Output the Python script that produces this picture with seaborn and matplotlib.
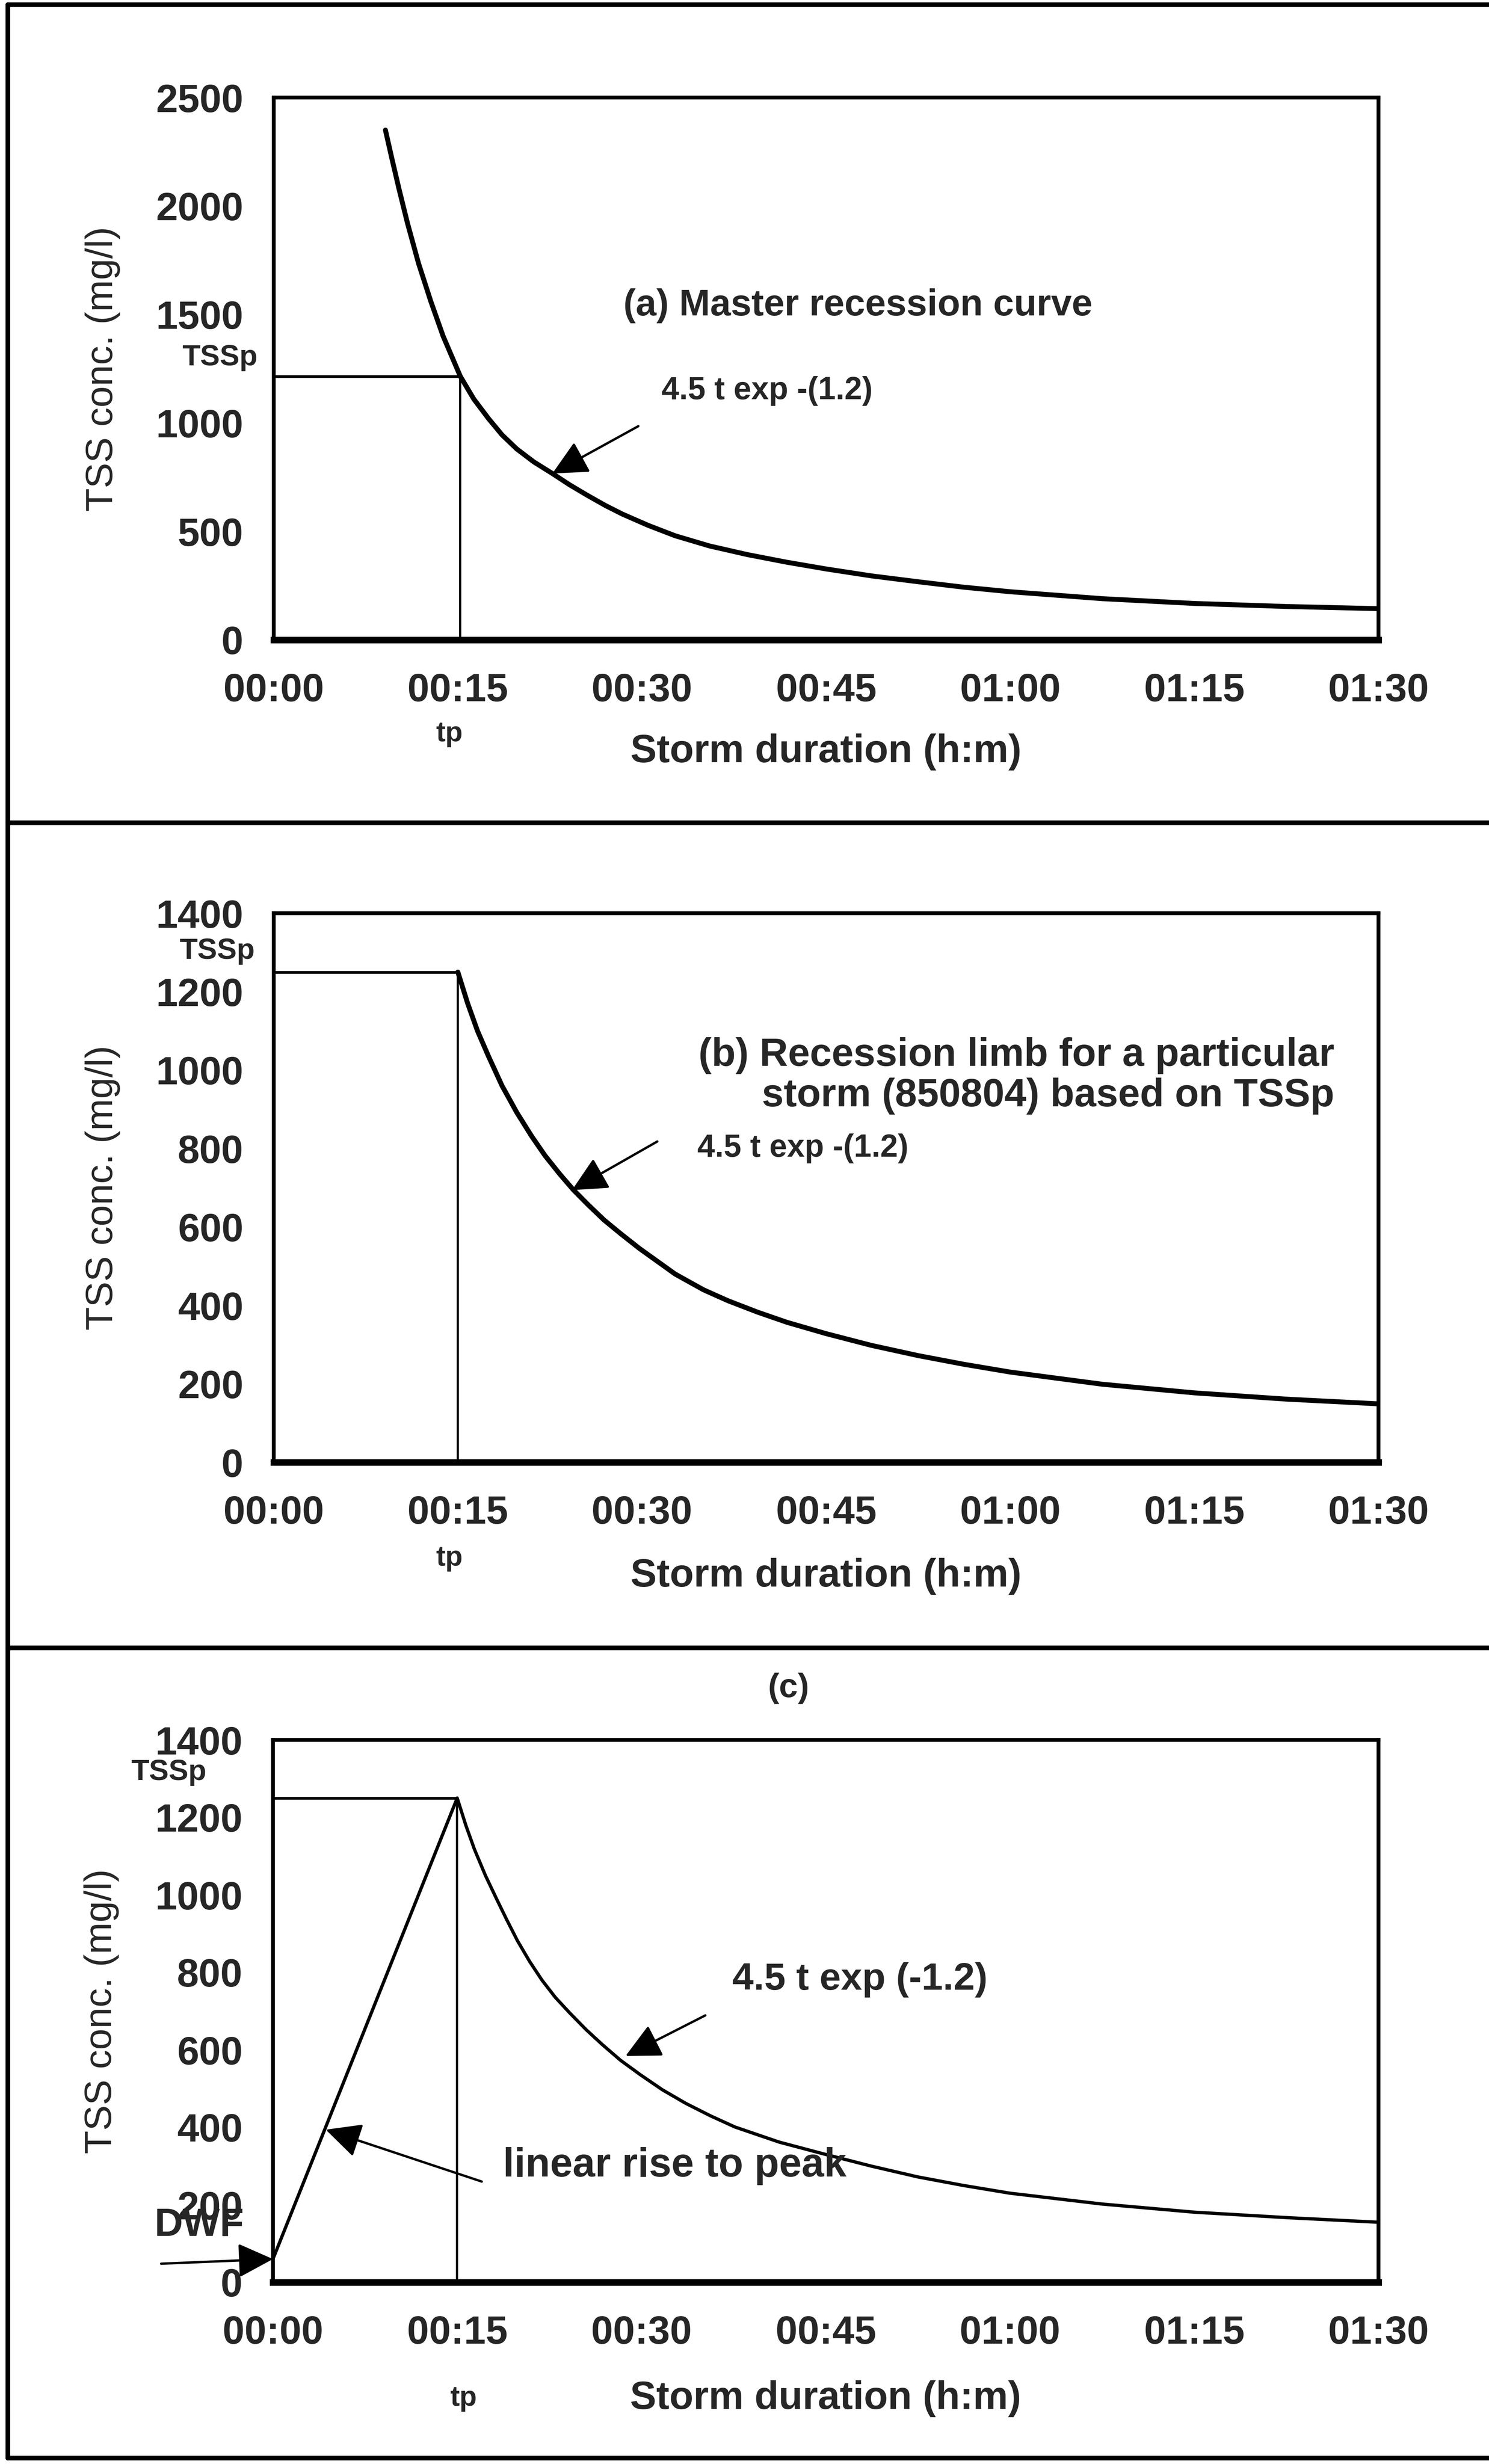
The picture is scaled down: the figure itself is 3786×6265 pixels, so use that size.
import matplotlib
matplotlib.use("Agg")
import matplotlib.pyplot as plt
from matplotlib.lines import Line2D
import seaborn as sns
import pandas as pd

# ---------------- data (time in minutes, TSS in mg/l) ----------------
x_ticks = [0, 15, 30, 45, 60, 75, 90]
x_tick_labels = ["00:00", "00:15", "00:30", "00:45", "01:00", "01:15", "01:30"]

# (a) master recession curve
a_time = [9.1, 9.6, 10.2, 10.9, 11.8, 12.8, 13.8, 15.2, 16.3, 17.5, 18.6, 19.8,
          21.2, 22.7, 24.1, 25.5, 27.0, 28.4, 30.5, 32.7, 35.5, 38.6, 41.8,
          45.0, 48.7, 52.5, 56.2, 60.0, 67.5, 75.0, 82.5, 90.0]
a_tss = [2350, 2225, 2080, 1920, 1735, 1560, 1400, 1215, 1110, 1020, 945, 880,
         820, 767, 715, 668, 620, 580, 528, 480, 433, 393, 358,
         327, 295, 268, 243, 222, 190, 168, 154, 144]
a_tp, a_tssp = 15.2, 1215
a_yticks = [0, 500, 1000, 1500, 2000, 2500]

# (b) recession limb for storm 850804
b_time = [15.0, 15.8, 16.6, 17.5, 18.6, 19.8, 21.0, 22.1, 23.3, 24.4, 25.6,
          26.9, 28.3, 29.8, 32.7, 35.0, 37.0, 39.4, 41.8, 45.0, 48.7, 52.5,
          56.2, 60.0, 67.5, 75.0, 82.5, 90.0]
b_tss = [1250, 1170, 1100, 1035, 960, 892, 832, 782, 735, 695, 657,
         618, 582, 545, 480, 440, 412, 383, 357, 328, 298, 272,
         250, 230, 199, 177, 161, 149]
b_tp, b_tssp = 15.0, 1250
b_yticks = [0, 200, 400, 600, 800, 1000, 1200, 1400]

# (c) linear rise from dry weather flow to peak, then recession
c_time = [0.0, 15.0, 15.7, 16.4, 17.3, 18.2, 19.0, 19.9, 20.9, 21.9, 23.0,
          24.2, 25.5, 26.8, 28.3, 29.9, 31.7, 33.6, 35.6, 37.6, 41.2, 45.0,
          48.7, 52.5, 56.2, 60.0, 67.5, 75.0, 82.5, 90.0]
c_tss = [60, 1250, 1180, 1118, 1050, 990, 938, 882, 828, 780, 735,
         694, 652, 614, 573, 536, 497, 462, 430, 401, 362, 330,
         300, 272, 250, 230, 202, 181, 167, 155]
c_tp, c_tssp, c_dwf = 15.0, 1250, 60
c_yticks = [0, 200, 400, 600, 800, 1000, 1200, 1400]

# ---------------- style ----------------
sns.set_theme(style="white")
plt.rcParams["font.family"] = ["Liberation Sans", "DejaVu Sans"]

W, H = 3787, 6265
fig = plt.figure(figsize=(W / 100, H / 100), dpi=100)
fig.patch.set_facecolor("white")

TICK_FS = 72
BOLD = "bold"


def make_axes(left, top, right, bottom):
    return fig.add_axes([left / W, 1 - bottom / H, (right - left) / W, (bottom - top) / H])


def style_axes(ax, yticks, xlabel_y):
    ax.set_xlim(0, 90)
    ax.set_ylim(0, yticks[-1])
    ax.set_xticks(x_ticks, labels=x_tick_labels, fontweight=BOLD, fontsize=TICK_FS)
    ax.set_yticks(yticks, labels=[str(v) for v in yticks], fontweight=BOLD, fontsize=TICK_FS)
    ax.tick_params(axis="y", direction="inout", length=39, width=3.5, pad=36, color="black")
    ax.tick_params(axis="x", direction="inout", length=34, width=3.5, pad=43, color="black")
    for side in ("left", "top", "right"):
        ax.spines[side].set_linewidth(7)
        ax.spines[side].set_color("black")
    ax.spines["bottom"].set_linewidth(12)
    ax.spines["bottom"].set_color("black")
    ax.set_facecolor("white")
    ax.grid(False)
    ax.set_xlabel("Storm duration (h:m)", fontsize=72, fontweight=BOLD, va="center")
    ax.xaxis.set_label_coords(0.5, xlabel_y)
    ax.set_ylabel("TSS conc. (mg/l)", fontsize=70, fontweight="normal", va="center")
    ax.yaxis.set_label_coords(-0.155, 0.5)


def arrow(ax, head, tail):
    ax.annotate("", xy=head, xytext=tail, annotation_clip=False,
                arrowprops=dict(arrowstyle="-|>,head_length=0.55,head_width=0.27",
                                mutation_scale=100, lw=4.3, color="black",
                                shrinkA=0, shrinkB=0))


def curve(ax, t, tss, lw):
    sns.lineplot(data=pd.DataFrame({"t": t, "tss": tss}), x="t", y="tss",
                 ax=ax, color="black", linewidth=lw, sort=False)
    ax.lines[-1].set_solid_joinstyle("round")


# ---------------- panel (a) ----------------
ax_a = make_axes(696, 248, 3505, 1627)
curve(ax_a, a_time, a_tss, 9)
ax_a.plot([0, a_tp], [a_tssp, a_tssp], color="black", lw=5)
ax_a.plot([a_tp, a_tp], [0, a_tssp], color="black", lw=4)
style_axes(ax_a, a_yticks, -0.2067)
ax_a.text(47.6, 1540, "(a) Master recession curve", fontsize=68, fontweight=BOLD,
          ha="center", va="center")
ax_a.text(40.2, 1147, "4.5 t exp -(1.2)", fontsize=58, fontweight=BOLD,
          ha="center", va="center")
arrow(ax_a, (22.7, 767), (29.7, 985))
ax_a.text(-4.4, 1300, "TSSp", fontsize=54, fontweight=BOLD, ha="center", va="center",
          clip_on=False)
ax_a.text(14.3, -433, "tp", fontsize=52, fontweight=BOLD, ha="center", va="center",
          clip_on=False)

# ---------------- panel (b) ----------------
ax_b = make_axes(696, 2322, 3505, 3718)
curve(ax_b, b_time, b_tss, 9)
ax_b.plot([0, b_tp], [b_tssp, b_tssp], color="black", lw=5)
ax_b.plot([b_tp, b_tp], [0, b_tssp], color="black", lw=4)
style_axes(ax_b, b_yticks, -0.208)
ax_b.text(86.4, 985, "(b) Recession limb for a particular\nstorm (850804) based on TSSp",
          fontsize=72, fontweight=BOLD, ha="right", va="center", multialignment="right",
          linespacing=1.12)
ax_b.text(43.1, 800, "4.5 t exp -(1.2)", fontsize=58, fontweight=BOLD,
          ha="center", va="center")
arrow(ax_b, (24.3, 694), (31.25, 818))
ax_b.text(-4.6, 1303, "TSSp", fontsize=54, fontweight=BOLD, ha="center", va="center",
          clip_on=False)
ax_b.text(14.3, -245, "tp", fontsize=52, fontweight=BOLD, ha="center", va="center",
          clip_on=False)

# ---------------- panel (c) ----------------
ax_c = make_axes(694, 4424, 3505, 5803)
curve(ax_c, c_time, c_tss, 6)
ax_c.plot([0, c_tp], [c_tssp, c_tssp], color="black", lw=5)
ax_c.plot([c_tp, c_tp], [0, c_tssp], color="black", lw=4)
style_axes(ax_c, c_yticks, -0.215)
ax_c.text(42.0, 1533, "(c)", fontsize=62, fontweight=BOLD, ha="center", va="center",
          clip_on=False)
ax_c.text(47.8, 781, "4.5 t exp (-1.2)", fontsize=70, fontweight=BOLD,
          ha="center", va="center")
arrow(ax_c, (28.7, 584), (35.2, 689))
ax_c.text(32.7, 300, "linear rise to peak", fontsize=74, fontweight=BOLD,
          ha="center", va="center")
arrow(ax_c, (4.3, 394), (17.0, 260))
ax_c.text(-8.5, 1316, "TSSp", fontsize=54, fontweight=BOLD, ha="center", va="center",
          clip_on=False)
ax_c.text(-6.0, 147, "DWF", fontsize=72, fontweight=BOLD, ha="center", va="center",
          clip_on=False)
arrow(ax_c, (0.0, c_dwf), (-9.1, 48))
ax_c.text(15.5, -300, "tp", fontsize=52, fontweight=BOLD, ha="center", va="center",
          clip_on=False)

# ---------------- page frame and panel separators ----------------
def fig_line(x0, y0, x1, y1, lw=8.5):
    fig.add_artist(Line2D([x0 / W, x1 / W], [1 - y0 / H, 1 - y1 / H],
                          transform=fig.transFigure, color="black", lw=lw))

fig_line(20, 12, 3787, 12)
fig_line(20, 12, 20, 6250)
fig_line(20, 6250, 3787, 6250)
fig_line(20, 2092, 3787, 2092)
fig_line(20, 4190, 3787, 4190)

fig.savefig("out.png", dpi=100, facecolor="white")
